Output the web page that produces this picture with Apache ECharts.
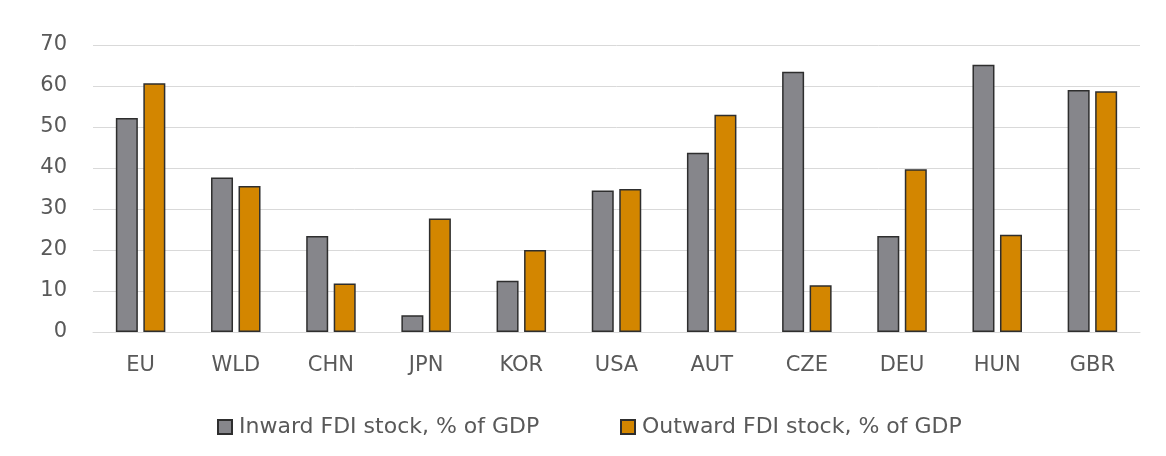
<!DOCTYPE html>
<html><head><meta charset="utf-8">
<script src="https://cdn.jsdelivr.net/npm/echarts@6/dist/echarts.min.js"></script>
<style>html,body{margin:0;padding:0;background:#fff}#c{width:1166px;height:456px}</style>
</head><body><div id="c"></div>
<script>
const categories = ['EU','WLD','CHN','JPN','KOR','USA','AUT','CZE','DEU','HUN','GBR'];
const inwardFDI = [52.2, 37.7, 23.4, 4.1, 12.5, 34.5, 43.7, 63.5, 23.4, 65.2, 59.0];
const outwardFDI = [60.7, 35.6, 11.8, 27.7, 20.0, 34.9, 53.0, 11.4, 39.7, 23.7, 58.7];
const seriesNames = ['Inward FDI stock, % of GDP', 'Outward FDI stock, % of GDP'];
const yTicks = {min: 0, max: 70, interval: 10};

const font = '"DejaVu Sans", sans-serif';
const legendStyle = {
  top: 411, itemWidth: 14, itemHeight: 14, icon: 'rect',
  textStyle: {fontSize: 22, color: '#595959', fontFamily: font, padding: [0, 0, 0, 2]}
};
const chart = echarts.init(document.getElementById('c'), null, {renderer: 'canvas'});
chart.setOption({
  animation: false,
  backgroundColor: '#fff',
  textStyle: {fontFamily: font},
  grid: {left: 93, right: 26, top: 45, bottom: 124, containLabel: false},
  legend: [
    Object.assign({left: 212, data: [seriesNames[0]]}, legendStyle),
    Object.assign({left: 615, data: [seriesNames[1]]}, legendStyle)
  ],
  xAxis: {
    type: 'category', data: categories,
    axisLine: {show: true, lineStyle: {color: '#d9d9d9', width: 1}},
    axisTick: {show: false},
    axisLabel: {fontSize: 21, color: '#595959', margin: 23, fontFamily: font}
  },
  yAxis: {
    type: 'value', min: yTicks.min, max: yTicks.max, interval: yTicks.interval,
    axisLine: {show: false}, axisTick: {show: false},
    axisLabel: {fontSize: 21, color: '#595959', margin: 26, fontFamily: font},
    splitLine: {lineStyle: {color: '#d9d9d9', width: 1}}
  },
  series: [
    {name: seriesNames[0], type: 'bar', data: inwardFDI, barWidth: 22, barGap: '25%',
     itemStyle: {color: '#86868b', borderColor: '#2e2e2e', borderWidth: 1.5}},
    {name: seriesNames[1], type: 'bar', data: outwardFDI, barWidth: 22,
     itemStyle: {color: '#d38600', borderColor: '#2e2e2e', borderWidth: 1.5}}
  ]
});
</script></body></html>
